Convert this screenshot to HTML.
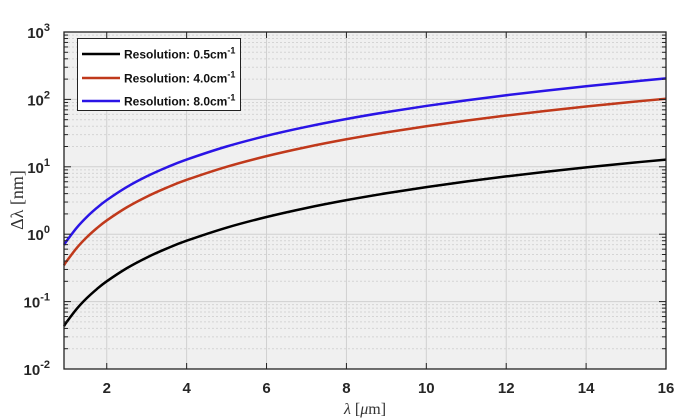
<!DOCTYPE html>
<html><head><meta charset="utf-8"><style>
body{margin:0;background:#fff;}
svg{display:block;font-family:"Liberation Sans",sans-serif;}
</style></head><body>
<svg id="chart" width="682" height="420">
<rect x="64" y="32" width="602" height="337" fill="#f0f0f0"/>
<g id="grid"></g><g id="series"></g><g id="axes"></g>
<text x="365" y="414" text-anchor="middle" font-family="Liberation Serif,serif" font-size="16" fill="#333"><tspan font-style="italic">λ</tspan> [<tspan font-style="italic">μ</tspan>m]</text>
<text transform="translate(23,200) rotate(-90)" text-anchor="middle" font-family="Liberation Serif,serif" font-size="18" fill="#333">Δλ [nm]</text>
<g>
<rect x="77.5" y="38.5" width="163" height="72" fill="#fff" stroke="#222" stroke-width="1"/>
<line x1="82" y1="54" x2="120" y2="54" stroke="#000" stroke-width="2.5"/>
<text x="124" y="58.5" font-size="12" font-weight="bold" fill="#111">Resolution: 0.5cm<tspan dy="-5" font-size="9">-1</tspan></text>
<line x1="82" y1="78" x2="120" y2="78" stroke="#c0391b" stroke-width="2.5"/>
<text x="124" y="82.5" font-size="12" font-weight="bold" fill="#111">Resolution: 4.0cm<tspan dy="-5" font-size="9">-1</tspan></text>
<line x1="82" y1="101" x2="120" y2="101" stroke="#2a14e6" stroke-width="2.5"/>
<text x="124" y="105.5" font-size="12" font-weight="bold" fill="#111">Resolution: 8.0cm<tspan dy="-5" font-size="9">-1</tspan></text>
</g>
</svg>
<script>
const lambdaUm=[0.93,1,1.25,1.5,1.75,2,2.5,3,3.5,4,5,6,7,8,9,10,11,12,13,14,15,16];
const res05=[0.0432,0.05,0.0781,0.1125,0.153,0.2,0.3125,0.45,0.6125,0.8,1.25,1.8,2.45,3.2,4.05,5,6.05,7.2,8.45,9.8,11.25,12.8];
const res40=[0.346,0.4,0.625,0.9,1.225,1.6,2.5,3.6,4.9,6.4,10,14.4,19.6,25.6,32.4,40,48.4,57.6,67.6,78.4,90,102.4];
const res80=[0.692,0.8,1.25,1.8,2.45,3.2,5,7.2,9.8,12.8,20,28.8,39.2,51.2,64.8,80,96.8,115.2,135.2,156.8,180,204.8];
const xTicks=[2,4,6,8,10,12,14,16];
const yDecades=[-2,-1,0,1,2,3];
const NS="http://www.w3.org/2000/svg";
const L=64,R=666,T=32,B=369,xmin=0.93,xmax=16,ymin=-2,ymax=3;
function sx(v){return L+(v-xmin)/(xmax-xmin)*(R-L);}
function sy(v){return B-(Math.log10(v)-ymin)/(ymax-ymin)*(B-T);}
function mk(tag,attrs,parent){const e=document.createElementNS(NS,tag);for(const k in attrs)e.setAttribute(k,attrs[k]);parent.appendChild(e);return e;}
const grid=document.getElementById('grid'),axes=document.getElementById('axes'),ser=document.getElementById('series');
for(let d=ymin;d<ymax;d++){for(let m=2;m<10;m++){const y=sy(m*Math.pow(10,d));
const g=mk('line',{x1:L,x2:R,y1:y,y2:y,stroke:'#d4d4d4','stroke-width':1,'stroke-dasharray':'2,2'},grid);


[[L,L+4],[R-4,R]].forEach(p=>{const t=mk('line',{x1:p[0],x2:p[1],y1:y,y2:y,stroke:'#222'},axes);

});}}
yDecades.forEach(d=>{const y=sy(Math.pow(10,d));
const g=mk('line',{x1:L,x2:R,y1:y,y2:y,stroke:'#d0d0d0'},grid);


[[L,L+7],[R-7,R]].forEach(p=>{mk('line',{x1:p[0],x2:p[1],y1:y,y2:y,stroke:'#222'},axes);});
const t=mk('text',{x:50,y:y+6,'text-anchor':'end','font-size':15,'font-weight':'bold',fill:'#262626'},axes);


t.innerHTML='10<tspan dy="-7" font-size="11">'+d+'</tspan>';});
xTicks.forEach(v=>{const x=sx(v);
const g=mk('line',{x1:x,x2:x,y1:T,y2:B,stroke:'#d0d0d0'},grid);


mk('line',{x1:x,x2:x,y1:B,y2:B-6,stroke:'#222'},axes);
mk('line',{x1:x,x2:x,y1:T,y2:T+6,stroke:'#222'},axes);
const t=mk('text',{x:x,y:393,'text-anchor':'middle','font-size':15,'font-weight':'bold',fill:'#262626'},axes);


t.textContent=v;});
const box=mk('rect',{x:L,y:T,width:R-L,height:B-T,fill:'none',stroke:'#222','stroke-width':1.3},axes);


function path(vals){const p=lambdaUm.map((x,i)=>[sx(x),sy(vals[i])]);let d='M'+p[0][0]+','+p[0][1];
for(let i=0;i<p.length-1;i++){const p0=p[i-1]||p[i],p1=p[i],p2=p[i+1],p3=p[i+2]||p2;
d+=' C'+(p1[0]+(p2[0]-p0[0])/6)+','+(p1[1]+(p2[1]-p0[1])/6)+' '+(p2[0]-(p3[0]-p1[0])/6)+','+(p2[1]-(p3[1]-p1[1])/6)+' '+p2[0]+','+p2[1];}return d;}
[[res05,'#000','line-res-0.5'],[res40,'#c0391b','line-res-4.0'],[res80,'#2a14e6','line-res-8.0']].forEach(s=>{
const e=mk('path',{d:path(s[0]),fill:'none',stroke:s[1],'stroke-width':2.5},ser);

});
</script>
</body></html>
